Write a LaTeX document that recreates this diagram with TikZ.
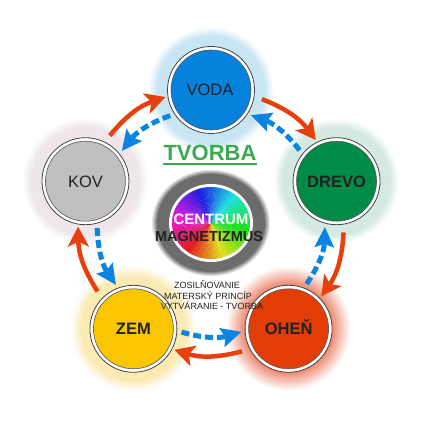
\documentclass[tikz,border=0pt]{standalone}
\usepackage{fontspec}
\setmainfont{Liberation Sans}
\usetikzlibrary{arrows.meta,calc}
\definecolor{redarr}{RGB}{232,64,12}
\definecolor{bluearr}{RGB}{10,132,225}
\definecolor{vodac}{RGB}{5,130,220}
\definecolor{drevoc}{RGB}{0,140,70}
\definecolor{ohenc}{RGB}{228,60,5}
\definecolor{zemc}{RGB}{250,198,0}
\definecolor{kovc}{RGB}{192,192,192}
\definecolor{vodah}{RGB}{200,229,244}
\definecolor{drevoh}{RGB}{212,234,225}
\definecolor{ohenh}{RGB}{238,140,115}
\definecolor{zemh}{RGB}{251,234,178}
\definecolor{kovh}{RGB}{238,230,234}
\definecolor{tvorbac}{RGB}{60,170,80}
\definecolor{labelc}{RGB}{34,34,34}
\definecolor{ringgray}{RGB}{108,108,108}
\newcommand\drawhalo[3]{%
  \foreach \k in {0,...,12}{%
    \pgfmathtruncatemacro\pp{\k*100/12}%
    \pgfmathsetmacro\rr{63-\k*(63-#3)/12}%
    \fill[#2!\pp!white] (#1) circle (\rr);%
  }%
}
\tikzset{
  elem/.style={circle, draw=labelc!85, line width=0.8pt, fill=white,
    minimum size=87pt, inner sep=0pt},
  core/.style={draw=labelc!75, line width=0.6pt},
  lab/.style={anchor=base, inner sep=0pt, text=labelc,
    font=\fontsize{16.5}{18}\selectfont},
  labb/.style={lab, font=\fontsize{16.5}{18}\selectfont\bfseries},
  redarrow/.style={draw=redarr, line width=4.5pt,
    -{Stealth[length=20pt,width=21pt,inset=5pt]}},
  bluearrow/.style={draw=bluearr, line width=5pt, dash pattern=on 8pt off 4pt,
    -{Stealth[length=20pt,width=19pt,inset=3pt]}},
  small/.style={anchor=base, inner sep=0pt, text=labelc,
    font=\fontsize{9}{10}\selectfont},
}
\begin{document}
\begin{tikzpicture}[x=1pt,y=1pt]
\fill[white] (0,0) rectangle (421,421);
\useasboundingbox (0,0) rectangle (421,421);
\coordinate (C) at (211,199);
\coordinate (cc) at (211,198);
\coordinate (pv) at ($(C)+(90:132)$);
\coordinate (pd) at ($(C)+(18:132)$);
\coordinate (po) at ($(C)+(-54:132)$);
\coordinate (pz) at ($(C)+(-126:132)$);
\coordinate (pk) at ($(C)+(162:132)$);
% halos
\drawhalo{pv}{vodah}{54}
\drawhalo{pd}{drevoh}{54}
\drawhalo{po}{ohenh}{45}
\drawhalo{pz}{zemh}{52}
\drawhalo{pk}{kovh}{54}
% centre
\foreach \k in {0,...,18}{%
  \pgfmathsetmacro\rx{60-\k}%
  \pgfmathsetmacro\ry{54-\k*15/18}%
  \pgfmathtruncatemacro\pp{min(100,\k*100/6)}%
  \fill[ringgray!\pp!white] (cc) ellipse [x radius=\rx, y radius=\ry];
}
\fill[white] (cc) ellipse [x radius=42, y radius=39];
\begin{scope}
  \clip (cc) ellipse [x radius=39, y radius=36];
  \foreach \a in {0,2.5,...,357.5}{%
    \pgfmathsetmacro\hh{mod(131.25+\a,360)}%
    \definecolor{rbc}{Hsb}{\hh,0.88,0.88}%
    \fill[rbc] (cc) -- +(\a:50) -- +(\a+3:50) -- cycle;
  }
\end{scope}
% arrows
\foreach \i in {0,...,4}{%
  \pgfmathsetmacro\a{90-72*\i}%
  \coordinate (rs\i) at ($(C)+(\a-22.5:133)$);
  \coordinate (re\i) at ($(C)+(\a-52:133)$);
  \coordinate (bs\i) at ($(C)+(\a+21:114)$);
  \coordinate (be\i) at ($(C)+(\a+51.5:114)$);
}
\foreach \i in {0,...,4}{%
  \draw[redarrow] (rs\i) to[bend left=16] (re\i);
  \draw[bluearrow] (bs\i) to[bend right=16] (be\i);
}
% element nodes
\node[elem] (voda) at (pv) {};
\node[elem] (drevo) at (pd) {};
\node[elem] (ohen) at (po) {};
\node[elem] (zem) at (pz) {};
\node[elem] (kov) at (pk) {};
\fill[vodac, core] (voda.center) circle (40);
\fill[drevoc, core] (drevo.center) circle (40);
\fill[ohenc, core] (ohen.center) circle (40);
\fill[zemc, core] (zem.center) circle (40);
\fill[kovc, core] (kov.center) circle (40);
\node[lab] (vodat) at ($(voda.center)+(-1,-6)$) {VODA};
\node[labb] (drevot) at ($(drevo.center)+(0,-6)$) {DREVO};
\node[labb] (ohent) at ($(ohen.center)+(0,-6)$) {OHEŇ};
\node[labb] (zemt) at ($(zem.center)+(0,-6)$) {ZEM};
\node[lab] (kovt) at ($(kov.center)+(0,-6)$) {KOV};
% texts
\node[anchor=base, inner sep=0pt, text=tvorbac,
  font=\fontsize{22}{24}\selectfont\bfseries] (tv) at (210,260) {TVORBA};
\draw[tvorbac, line width=2pt] ($(tv.base west)+(0,-3)$) -- ($(tv.base east)+(0,-3)$);
\node[anchor=base, inner sep=0pt, text=white,
  font=\fontsize{15}{16}\selectfont\bfseries] (cen) at (211,196) {CENTRUM};
\node[anchor=base, inner sep=0pt, text=labelc,
  font=\fontsize{14.5}{16}\selectfont\bfseries] (mag) at (209,179) {MAGNETIZMUS};
\node[small] (s1) at (207,132) {ZOSILŇOVANIE};
\node[small] (s2) at (208,121.3) {MATERSKÝ PRINCÍP};
\node[small] (s3) at (212,111) {VYTVÁRANIE - TVORBA};
\end{tikzpicture}
\end{document}
